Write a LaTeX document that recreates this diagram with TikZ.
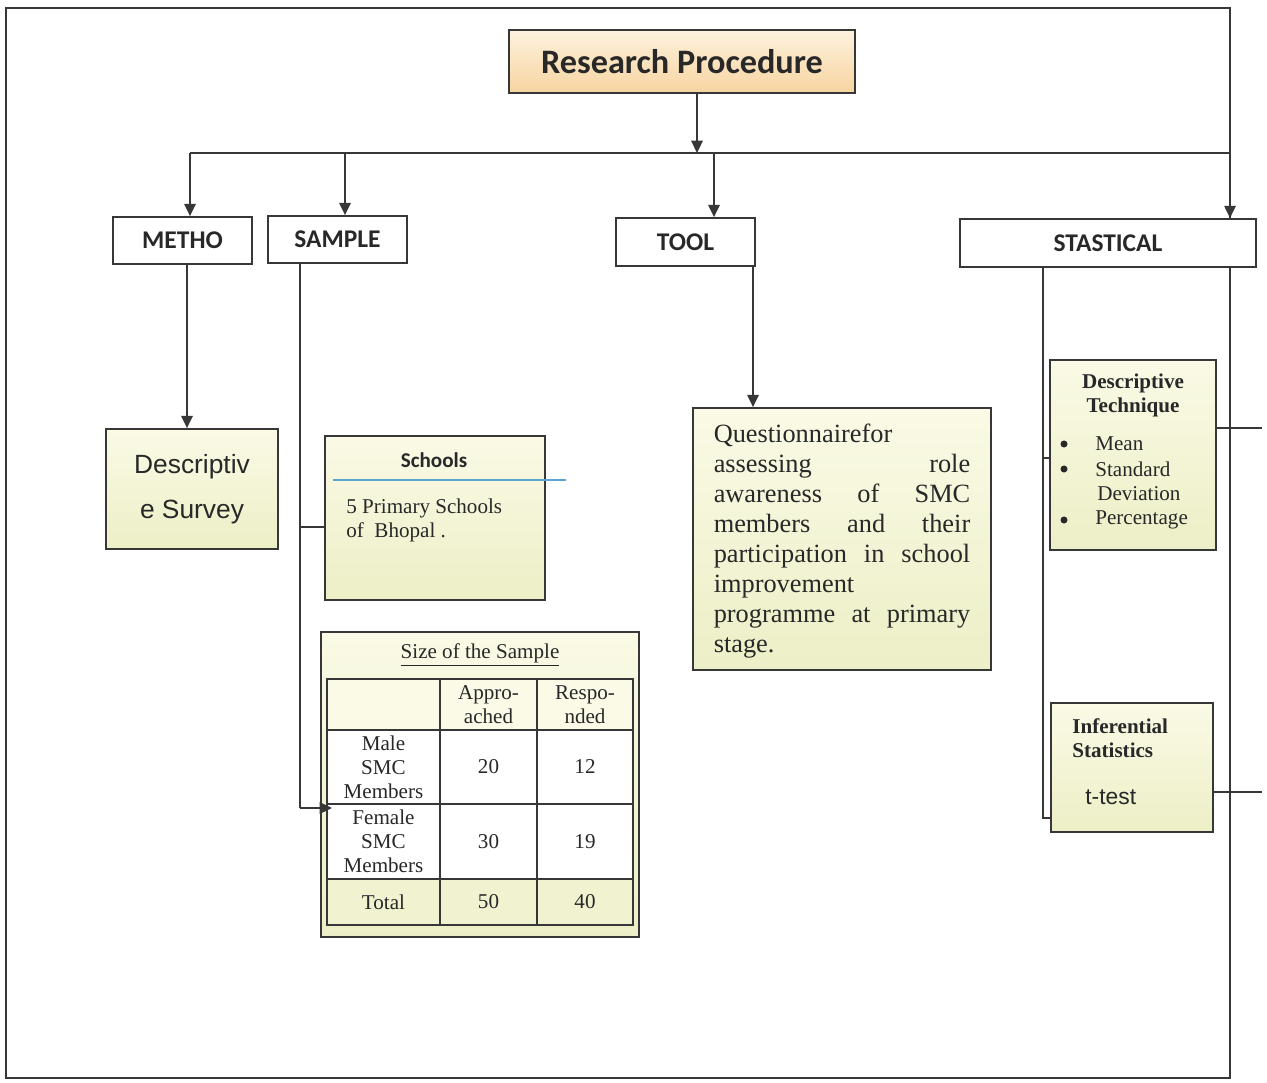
\documentclass[tikz,border=0pt]{standalone}
\usepackage{fontspec}
\setmainfont{Liberation Serif}
\newfontfamily\calib{Carlito}
\newfontfamily\arialf{Liberation Sans}
\usetikzlibrary{arrows.meta}
\definecolor{ln}{RGB}{55,55,55}
\definecolor{fillA}{RGB}{250,250,230}
\definecolor{fillB}{RGB}{236,239,198}
\definecolor{fillT}{RGB}{240,242,208}
\definecolor{peachA}{RGB}{253,242,222}
\definecolor{peachB}{RGB}{247,212,160}
\definecolor{txt}{RGB}{40,40,40}
\definecolor{blueline}{RGB}{90,165,205}
\tikzset{
  sz/.style 2 args={minimum width=#1*0.02cm, minimum height=#2*0.02cm},
  box/.style={draw=ln, line width=1pt, inner sep=0pt, text=txt},
  ybox/.style={box, top color=fillA, bottom color=fillB},
  lbl/.style={box, fill=white, font=\calib\bfseries\fontsize{14.5}{17}\selectfont},
  conn/.style={draw=ln, line width=1pt},
  arr/.style={conn, -{Triangle[length=7pt,width=6.5pt]}},
  tx/.style={inner sep=0pt, text=txt},
  tms/.style={tx, font=\fontsize{12}{13.6}\selectfont},
  dot/.style={circle, fill=txt, inner sep=0pt, minimum size=4pt},
}
\begin{document}
\begin{tikzpicture}[x=0.02cm,y=-0.02cm]
\fill[white] (0,0) rectangle (1267,1082);
\useasboundingbox (0,0) rectangle (1267,1082);
% frame
\draw[conn] (6,8) rectangle (1230,1078);

% title
\node[box, top color=peachA, bottom color=peachB, sz={346}{63},
      font=\calib\bfseries\fontsize{19.5}{22}\selectfont] (title) at (682,61.5) {Research Procedure};

% level boxes
\node[lbl, sz={139}{47}] (metho) at (182.5,240.5) {METHO};
\node[lbl, sz={139}{47}] (sample) at (337.5,239.5) {SAMPLE};
\node[lbl, sz={139}{48}] (tool) at (685.5,242) {TOOL};
\node[lbl, sz={296}{48}] (stat) at (1108,243) {STASTICAL};

% bus
\coordinate (tp) at (697,153);
\coordinate (b1) at (190,153);
\coordinate (b2) at (345,153);
\coordinate (b3) at (714,153);
\coordinate (b4) at (1230,153);
\draw[arr] (title.south -| tp) -- (tp);
\draw[conn] (b1) -- (b4);
\draw[arr] (b1) -- (b1 |- metho.north);
\draw[arr] (b2) -- (b2 |- sample.north);
\draw[arr] (b3) -- (b3 |- tool.north);
\draw[arr] (b4) -- (b4 |- stat.north);

% Descriptive survey
\node[ybox, sz={172}{120}, align=center,
      font=\arialf\fontsize{15}{25.5}\selectfont] (ds) at (192,489) {Descriptiv\\e Survey};
\coordinate (m1) at (187,300);
\draw[arr] (metho.south -| m1) -- (ds.north -| m1);

% Schools box
\node[ybox, sz={220}{164}] (sch) at (435,518) {};
\node[tx, font=\calib\bfseries\fontsize{12}{14}\selectfont] (schT) at (434,460) {Schools};
\node[tms, align=left, anchor=west] (schB) at (346,520) {5 Primary Schools\\of\ \ Bhopal .};
\draw[draw=blueline, line width=0.8pt] (333,480) -- (566,480);

% Table
\node[ybox, sz={318}{305}] (tbl) at (480,784.5) {};
\node[tms] (tblT) at (480,655) {\underline{Size of the Sample}};
\fill[fillA] (327,679) rectangle (633,730);
\fill[white] (327,730) rectangle (633,879);
\fill[fillT] (327,879) rectangle (633,925);
\draw[conn] (327,679) rectangle (633,925);
\draw[conn] (440,679) -- (440,925);
\draw[conn] (537,679) -- (537,925);
\draw[conn] (327,730) -- (633,730);
\draw[conn] (327,804) -- (633,804);
\draw[conn] (327,879) -- (633,879);
\begin{scope}[every node/.style={tms, align=center}]
\node (c01) at (488.5,704.5) {Appro-\\ached};
\node (c02) at (585,704.5) {Respo-\\nded};
\node (c10) at (383.5,767) {Male\\SMC\\Members};
\node (c11) at (488.5,767) {20};
\node (c12) at (585,767) {12};
\node (c20) at (383.5,841.5) {Female\\SMC\\Members};
\node (c21) at (488.5,841.5) {30};
\node (c22) at (585,841.5) {19};
\node (c30) at (383.5,902) {Total};
\node (c31) at (488.5,902) {50};
\node (c32) at (585,902) {40};
\end{scope}

% sample connectors
\coordinate (s1) at (300,300);
\coordinate (sb) at (300,808);
\coordinate (tin) at (332,808);
\coordinate (sj) at (300,527);
\draw[conn] (sample.south -| s1) -- (sb);
\draw[arr] (sb) -- (tin);
\draw[conn] (sj) -- (sch.west |- sj);

% Questionnaire
\node[ybox, sz={298}{262}] (quest) at (842,539) {};
\node[tx, text width=146pt, align=left,
      font=\fontsize{15}{17.1}\selectfont] (questT) at (842,541)
 {Questionnairefor\\
  assessing\hfill role\\
  awareness\hfill of\hfill SMC\\
  members\hfill and\hfill their\\
  participation\hfill in\hfill school\\
  improvement\\
  programme\hfill at\hfill primary\\
  stage.};
\coordinate (t1) at (753,300);
\draw[arr] (tool.south -| t1) -- (quest.north -| t1);

% Descriptive technique
\node[ybox, sz={166}{190}] (dt) at (1133,455) {};
\node[tx, align=center, font=\bfseries\fontsize{12}{13.6}\selectfont] (dtT) at (1133,395) {Descriptive\\Technique};
\node[tms, anchor=west] (dt1) at (1095,444) {Mean};
\node[tms, anchor=west] (dt2) at (1095,469) {Standard};
\node[tms, anchor=west] (dt3) at (1097,494) {Deviation};
\node[tms, anchor=west] (dt4) at (1095,520) {Percentage};
\node[dot] (bu1) at (1064,444) {};
\node[dot] (bu2) at (1064,469) {};
\node[dot] (bu4) at (1064,520) {};

% Inferential
\node[ybox, sz={162}{129}] (inf) at (1132,767.5) {};
\node[tx, align=left, anchor=west, font=\bfseries\fontsize{12}{13.6}\selectfont] (infT) at (1072,738) {Inferential\\Statistics};
\node[tx, anchor=west, font=\arialf\fontsize{13}{15}\selectfont] (infB) at (1085,797) {t-test};

% statistical connectors
\coordinate (k1) at (1043,300);
\coordinate (k2) at (1043,818);
\coordinate (k3) at (1043,458);
\coordinate (r1) at (1262,428);
\coordinate (r2) at (1262,792);
\draw[conn] (stat.south -| k1) -- (k2) -- (inf.west |- k2);
\draw[conn] (k3) -- (dt.west |- k3);
\draw[conn] (dt.east |- r1) -- (r1);
\draw[conn] (inf.east |- r2) -- (r2);
\end{tikzpicture}
\end{document}
